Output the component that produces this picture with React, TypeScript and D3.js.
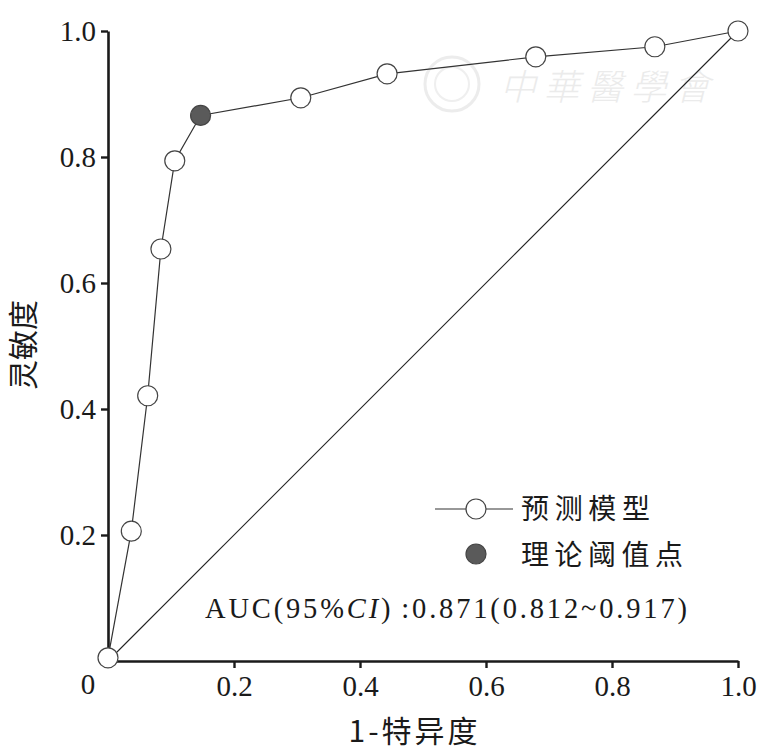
import React, { useEffect, useRef } from 'react';
import * as d3 from 'd3';

// ROC points (1 - specificity, sensitivity)
const fprValues = [0, 0.037, 0.063, 0.084, 0.106, 0.147, 0.306, 0.443, 0.679, 0.868, 1.0];
const tprValues = [0.005, 0.206, 0.421, 0.654, 0.794, 0.866, 0.894, 0.932, 0.959, 0.975, 1.0];
const thresholdIndex = 5;
const tickValues = [0.2, 0.4, 0.6, 0.8, 1.0];
const legendLabels = ['预测模型', '理论阈值点'];
const xLabel = '1-特异度';
const yLabel = '灵敏度';

const SERIF = '"Liberation Serif", "Times New Roman", serif';
const CJK = '"Noto Sans CJK SC", "Noto Sans", sans-serif';

const App: React.FC = () => {
  const svgRef = useRef<SVGSVGElement>(null);

  useEffect(() => {
    if (!svgRef.current) return;
    const svg = d3.select(svgRef.current);
    svg.selectAll('*').remove();

    const x = d3.scaleLinear().domain([0, 1]).range([108, 738]);
    const y = d3.scaleLinear().domain([0, 1]).range([661, 31]);

    // Watermark
    const wm = svg.append('g').attr('opacity', 0.45);
    wm.append('circle')
      .attr('cx', 452).attr('cy', 84).attr('r', 27)
      .attr('fill', 'none').attr('stroke', '#d6d6d6').attr('stroke-width', 3);
    wm.append('circle')
      .attr('cx', 452).attr('cy', 84).attr('r', 17)
      .attr('fill', 'none').attr('stroke', '#dcdcdc').attr('stroke-width', 2);
    wm.append('text')
      .attr('x', 500).attr('y', 100)
      .attr('font-family', CJK).attr('font-size', 36)
      .attr('font-style', 'italic').attr('font-weight', 300)
      .attr('fill', '#d4d4d4')
      .attr('textLength', 210).attr('lengthAdjust', 'spacing')
      .text('中華醫學會');

    // Diagonal reference line
    svg.append('line')
      .attr('x1', x(0)).attr('y1', y(0)).attr('x2', x(1)).attr('y2', y(1))
      .attr('stroke', '#222').attr('stroke-width', 1.1);

    // Axes
    const axisColor = '#1a1a1a';
    const yAxis = svg.append('g')
      .attr('transform', `translate(${x(0)},0)`)
      .call(d3.axisLeft(y).tickValues(tickValues).tickSize(7).tickSizeOuter(0).tickPadding(5).tickFormat(d3.format('.1f')));
    const xAxis = svg.append('g')
      .attr('transform', `translate(0,${y(0)})`)
      .call(d3.axisBottom(x).tickValues(tickValues).tickSize(7).tickSizeOuter(0).tickPadding(7).tickFormat(d3.format('.1f')));
    [yAxis, xAxis].forEach(g => {
      g.select('.domain').attr('stroke', axisColor).attr('stroke-width', 2.6);
      g.selectAll('.tick line').attr('stroke', axisColor).attr('stroke-width', 2.4);
      g.selectAll('.tick text')
        .attr('font-family', SERIF).attr('font-size', 29).attr('fill', '#1a1a1a');
    });

    // Origin label
    svg.append('text')
      .attr('x', 88).attr('y', 694)
      .attr('text-anchor', 'middle')
      .attr('font-family', SERIF).attr('font-size', 29).attr('fill', '#1a1a1a')
      .text('0');

    // Axis titles
    svg.append('text')
      .attr('x', 413).attr('y', 742)
      .attr('text-anchor', 'middle')
      .attr('font-family', CJK).attr('font-size', 30).attr('fill', '#1a1a1a')
      .attr('textLength', 129).attr('lengthAdjust', 'spacing')
      .text(xLabel);
    svg.append('text')
      .attr('transform', 'translate(34,345) rotate(-90)')
      .attr('text-anchor', 'middle')
      .attr('font-family', CJK).attr('font-size', 30).attr('fill', '#1a1a1a')
      .text(yLabel);

    // ROC curve
    const points = fprValues.map((f, i) => [f, tprValues[i]] as [number, number]);
    const line = d3.line<[number, number]>().x(d => x(d[0])).y(d => y(d[1]));
    svg.append('path')
      .attr('d', line(points))
      .attr('fill', 'none').attr('stroke', '#333').attr('stroke-width', 1.2);

    svg.selectAll('.pt')
      .data(points)
      .enter()
      .append('circle')
      .attr('class', 'pt')
      .attr('cx', d => x(d[0]))
      .attr('cy', d => y(d[1]))
      .attr('r', 10)
      .attr('fill', (d, i) => (i === thresholdIndex ? '#5a5a5a' : '#fff'))
      .attr('stroke', '#444')
      .attr('stroke-width', 1.2);

    // Legend
    const legend = svg.append('g');
    legend.append('line')
      .attr('x1', 435).attr('x2', 513).attr('y1', 509).attr('y2', 509)
      .attr('stroke', '#333').attr('stroke-width', 1.2);
    legend.append('circle')
      .attr('cx', 476).attr('cy', 509).attr('r', 10)
      .attr('fill', '#fff').attr('stroke', '#444').attr('stroke-width', 1.2);
    legend.append('circle')
      .attr('cx', 476).attr('cy', 554).attr('r', 10)
      .attr('fill', '#5a5a5a').attr('stroke', '#444').attr('stroke-width', 1.2);
    legendLabels.forEach((label, i) => {
      legend.append('text')
        .attr('x', 521).attr('y', 519 + i * 46)
        .attr('font-family', CJK).attr('font-size', 28).attr('fill', '#1a1a1a')
        .attr('textLength', i === 0 ? 129 : 162).attr('lengthAdjust', 'spacing')
        .text(label);
    });

    // AUC annotation
    const auc = svg.append('text')
      .attr('x', 205).attr('y', 618)
      .attr('font-family', SERIF).attr('font-size', 28.5).attr('fill', '#1a1a1a')
      .attr('textLength', 482).attr('lengthAdjust', 'spacing');
    auc.append('tspan').text('AUC(95%');
    auc.append('tspan').attr('font-style', 'italic').text('CI');
    auc.append('tspan').text(')');
    auc.append('tspan').attr('dx', 8).text(':');
    auc.append('tspan').text('0.871(0.812~0.917)');
  }, []);

  return (
    <div style={{ width: 767, height: 752 }}>
      <svg ref={svgRef} width={767} height={752} style={{ display: 'block', marginLeft: -8, marginTop: -8 }} />
    </div>
  );
};

export default App;
